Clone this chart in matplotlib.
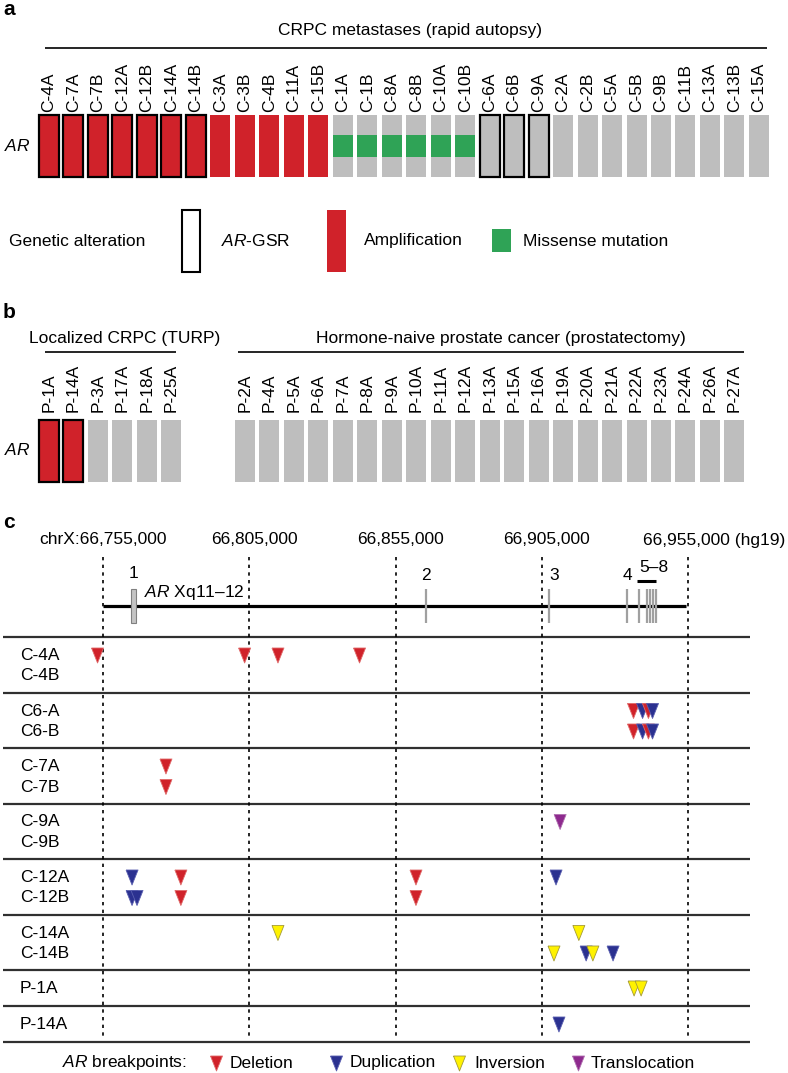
import matplotlib
matplotlib.use("Agg")
import matplotlib.pyplot as plt
from matplotlib.patches import Rectangle
from matplotlib.transforms import offset_copy

plt.rcParams['font.family'] = ['Liberation Sans', 'DejaVu Sans']
plt.rcParams['mathtext.fontset'] = 'custom'
plt.rcParams['mathtext.it'] = 'Liberation Sans:italic'
plt.rcParams['mathtext.rm'] = 'Liberation Sans'

# ---------------- data ----------------
a_samples = ["C-4A", "C-7A", "C-7B", "C-12A", "C-12B", "C-14A", "C-14B",
             "C-3A", "C-3B", "C-4B", "C-11A", "C-15B",
             "C-1A", "C-1B", "C-8A", "C-8B", "C-10A", "C-10B",
             "C-6A", "C-6B", "C-9A",
             "C-2A", "C-2B", "C-5A", "C-5B", "C-9B", "C-11B", "C-13A", "C-13B", "C-15A"]
a_amplified = ["C-4A", "C-7A", "C-7B", "C-12A", "C-12B", "C-14A", "C-14B",
               "C-3A", "C-3B", "C-4B", "C-11A", "C-15B"]
a_missense = ["C-1A", "C-1B", "C-8A", "C-8B", "C-10A", "C-10B"]
a_gsr = ["C-4A", "C-7A", "C-7B", "C-12A", "C-12B", "C-14A", "C-14B",
         "C-6A", "C-6B", "C-9A"]

b_localized = ["P-1A", "P-14A", "P-3A", "P-17A", "P-18A", "P-25A"]
b_naive = ["P-2A", "P-4A", "P-5A", "P-6A", "P-7A", "P-8A", "P-9A", "P-10A", "P-11A",
           "P-12A", "P-13A", "P-15A", "P-16A", "P-19A", "P-20A", "P-21A", "P-22A",
           "P-23A", "P-24A", "P-26A", "P-27A"]
b_amplified = ["P-1A", "P-14A"]
b_gsr = ["P-1A", "P-14A"]

coord_ticks = [66755000, 66805000, 66855000, 66905000, 66955000]
gene_span = [66755000, 66954500]
exon1 = [66764400, 66766100]
exon_pos = [66865400, 66907500, 66934300]
exon_labels = ["2", "3", "4"]
exon58_pos = [66938400, 66941000, 66942200, 66943200, 66944000]

row_groups = [["C-4A", "C-4B"], ["C6-A", "C6-B"], ["C-7A", "C-7B"], ["C-9A", "C-9B"],
              ["C-12A", "C-12B"], ["C-14A", "C-14B"], ["P-1A"], ["P-14A"]]

bp_sample = (["C-4A"] * 4 + ["C6-A"] * 4 + ["C6-B"] * 4 + ["C-7A", "C-7B", "C-9A"]
             + ["C-12A"] * 4 + ["C-12B"] * 4 + ["C-14A"] * 2 + ["C-14B"] * 4
             + ["P-1A"] * 2 + ["P-14A"])
bp_pos = [66753100, 66803400, 66814800, 66842700,
          66936400, 66939500, 66941500, 66942900,
          66936400, 66939500, 66941500, 66942900,
          66776500, 66776500, 66911300,
          66764900, 66781600, 66862000, 66909900,
          66764900, 66766600, 66781600, 66862000,
          66814800, 66917700,
          66909200, 66920200, 66922500, 66929400,
          66936600, 66939000,
          66910900]
bp_type = ["Deletion"] * 4 + ["Deletion", "Duplication", "Deletion", "Duplication"] * 2 \
    + ["Deletion", "Deletion", "Translocation"] \
    + ["Duplication", "Deletion", "Deletion", "Duplication"] \
    + ["Duplication", "Duplication", "Deletion", "Deletion"] \
    + ["Inversion", "Inversion"] \
    + ["Inversion", "Duplication", "Inversion", "Duplication"] \
    + ["Inversion", "Inversion"] + ["Duplication"]

bp_types_order = ["Deletion", "Duplication", "Inversion", "Translocation"]

# ---------------- style ----------------
W, H = 788, 1073
FS = 12.5
RED = '#d0222a'
GRAY = '#bebebe'
GREEN = '#2fa356'
type_face = {"Deletion": '#d0222a', "Duplication": '#2b3190',
             "Inversion": '#fff200', "Translocation": '#8e2a8e'}
type_edge = {"Deletion": '#e06a6a', "Duplication": '#5a5fb0',
             "Inversion": '#a39a3a', "Translocation": '#b070b0'}
TRI = [(-0.8, 1), (0.8, 1), (0, -1), (-0.8, 1)]
TRI_MS = 10.8

fig = plt.figure(figsize=(W / 100, H / 100), dpi=100)


def px_axes(x0, y0, x1, y1):
    return fig.add_axes([x0 / W, 1 - y1 / H, (x1 - x0) / W, (y1 - y0) / H])


ov = fig.add_axes([0, 0, 1, 1])
ov.set_xlim(0, W)
ov.set_ylim(H, 0)
ov.axis('off')
ov.patch.set_alpha(0)

PITCH = 24.48
X0 = 49 - 0.5 * PITCH
X1 = 49 + 29.5 * PITCH
BW = 20 / PITCH


def tile_axes(y0, y1):
    ax = px_axes(X0, y0, X1, y1)
    ax.set_xlim(-0.5, 29.5)
    ax.set_ylim(0, 1)
    for s in ax.spines.values():
        s.set_visible(False)
    ax.set_yticks([])
    ax.patch.set_alpha(0)
    return ax


# ---------------- panel a ----------------
ov.text(3, 15, 'a', fontsize=15, fontweight='bold', va='baseline')
ov.text(410, 30, 'CRPC metastases (rapid autopsy)', fontsize=FS, ha='center', va='center')
ov.hlines(48, 45, 767, color='black', lw=1.2)
ov.text(4, 146, r'$\it{AR}$', fontsize=FS, ha='left', va='center')

axa = tile_axes(115, 177)
idx_a = list(range(len(a_samples)))
cols = [RED if s in a_amplified else GRAY for s in a_samples]
axa.bar(idx_a, 1, width=BW, color=cols, linewidth=0)
mi = [i for i, s in enumerate(a_samples) if s in a_missense]
axa.bar(mi, 0.35, bottom=0.325, width=BW, color=GREEN, linewidth=0)
gi = [i for i, s in enumerate(a_samples) if s in a_gsr]
axa.bar(gi, 1, width=BW, fill=False, edgecolor='black', linewidth=1.6, clip_on=False)
axa.set_xticks(idx_a)
axa.set_xticklabels(a_samples, rotation=90, fontsize=FS)
axa.xaxis.set_ticks_position('top')
axa.tick_params(axis='x', length=0, pad=2)

# legend a
ov.text(9, 241, 'Genetic alteration', fontsize=FS, va='center')
ov.add_patch(Rectangle((182, 210), 18, 62, fill=False, edgecolor='black', lw=1.5))
ov.text(221, 241, r'$\it{AR}$-GSR', fontsize=FS, va='center')
ov.add_patch(Rectangle((327, 210), 19, 62, facecolor=RED, edgecolor='none'))
ov.text(364, 241, 'Amplification', fontsize=FS, va='center')
ov.add_patch(Rectangle((492, 229), 19, 23, facecolor=GREEN, edgecolor='none'))
ov.text(523, 241, 'Missense mutation', fontsize=FS, va='center')

# ---------------- panel b ----------------
ov.text(3, 318, 'b', fontsize=15, fontweight='bold', va='baseline')
ov.text(125, 338, 'Localized CRPC (TURP)', fontsize=FS, ha='center', va='center')
ov.hlines(352, 45, 176, color='black', lw=1.2)
ov.text(501, 338, 'Hormone-naive prostate cancer (prostatectomy)', fontsize=FS,
        ha='center', va='center')
ov.hlines(352, 238, 744, color='black', lw=1.2)
ov.text(4, 450, r'$\it{AR}$', fontsize=FS, ha='left', va='center')

axb = tile_axes(420, 482)
b_samples = b_localized + b_naive
idx_b = list(range(len(b_localized))) + [len(b_localized) + 2 + i for i in range(len(b_naive))]
cols = [RED if s in b_amplified else GRAY for s in b_samples]
axb.bar(idx_b, 1, width=BW, color=cols, linewidth=0)
gi = [idx_b[i] for i, s in enumerate(b_samples) if s in b_gsr]
axb.bar(gi, 1, width=BW, fill=False, edgecolor='black', linewidth=1.6, clip_on=False)
axb.set_xticks(idx_b)
axb.set_xticklabels(b_samples, rotation=90, fontsize=FS)
axb.xaxis.set_ticks_position('top')
axb.tick_params(axis='x', length=0, pad=5.5)

# ---------------- panel c ----------------
ov.text(3, 528, 'c', fontsize=15, fontweight='bold', va='baseline')
PX_PER_BP = 2.924 / 1000
REF_BP, REF_PX = coord_ticks[0], 103.1
axc = px_axes(0, 500, W, H)
axc.set_xlim(REF_BP - REF_PX / PX_PER_BP, REF_BP + (W - REF_PX) / PX_PER_BP)
axc.set_ylim(H, 500)
axc.axis('off')
axc.patch.set_alpha(0)

# coordinate labels
for k, t in enumerate(coord_ticks):
    lab = f"{t:,}"
    if k == 0:
        axc.text(t, 540, 'chrX:' + lab, fontsize=FS, ha='center', va='center')
    elif k == len(coord_ticks) - 1:
        axc.text(t, 540, lab + ' (hg19)', fontsize=FS, ha='right', va='center',
                 transform=offset_copy(axc.transData, fig=fig, x=97, y=0, units='dots'))
    else:
        tr = offset_copy(axc.transData, fig=fig, x=5, y=0, units='dots')
        axc.text(t, 540, lab, fontsize=FS, ha='center', va='center', transform=tr)

axc.vlines(coord_ticks, 557, 1038, colors='black', lw=1.2, linestyles=(0, (2, 2.6)))

# gene model
axc.hlines(606, gene_span[0], gene_span[1], colors='black', lw=2.3, zorder=2)
axc.add_patch(Rectangle((exon1[0], 589), exon1[1] - exon1[0], 34,
                        facecolor='#c4c4c4', edgecolor='#808080', lw=0.8, zorder=3))
axc.text((exon1[0] + exon1[1]) / 2, 574, '1', fontsize=FS, ha='center', va='center')
axc.vlines(exon_pos + exon58_pos, 589, 623, colors='#a0a0a0', lw=1.6, zorder=3)
for p, lab in zip(exon_pos, exon_labels):
    axc.text(p, 576, lab, fontsize=FS, ha='left' if lab == '3' else 'center', va='center')
axc.text(sum(exon58_pos) / len(exon58_pos) + 1500, 567, '5–8', fontsize=FS,
         ha='center', va='center')
axc.hlines(581, exon58_pos[0] - 800, exon58_pos[-1], colors='black', lw=2.2)
ov.text(144, 593, r'$\it{AR}$ Xq11–12', fontsize=FS, va='center')

# rows
seps = [637]
row_y = {}
for g in row_groups:
    top = seps[-1]
    if len(g) == 2:
        row_y[g[0]] = top + 18.5
        row_y[g[1]] = top + 39
        seps.append(top + 55.5)
    else:
        row_y[g[0]] = top + 18.5
        seps.append(top + 36)
for y in seps:
    ov.hlines(y, 3, 750, colors='#303030', lw=1.6)
for g in row_groups:
    for s in g:
        ov.text(20, row_y[s], s, fontsize=FS, va='center')

# breakpoints
ys = [row_y[s] for s in bp_sample]
axc.scatter(bp_pos, ys, s=TRI_MS ** 2, marker=TRI,
            c=[type_face[t] for t in bp_type],
            edgecolors=[type_edge[t] for t in bp_type], linewidths=0.6, zorder=4)

# legend c
ov.text(62, 1063, r'$\it{AR}$ breakpoints:', fontsize=FS, va='center')
leg_marker_x = [216, 336, 459, 578]
leg_text_x = [230, 350, 474, 591]
for t, mx, tx in zip(bp_types_order, leg_marker_x, leg_text_x):
    ov.scatter([mx], [1063], s=TRI_MS ** 2, marker=TRI, c=type_face[t],
               edgecolors=type_edge[t], linewidths=0.6)
    ov.text(tx, 1063, t, fontsize=FS, va='center')

fig.savefig('out.png', dpi=100)
